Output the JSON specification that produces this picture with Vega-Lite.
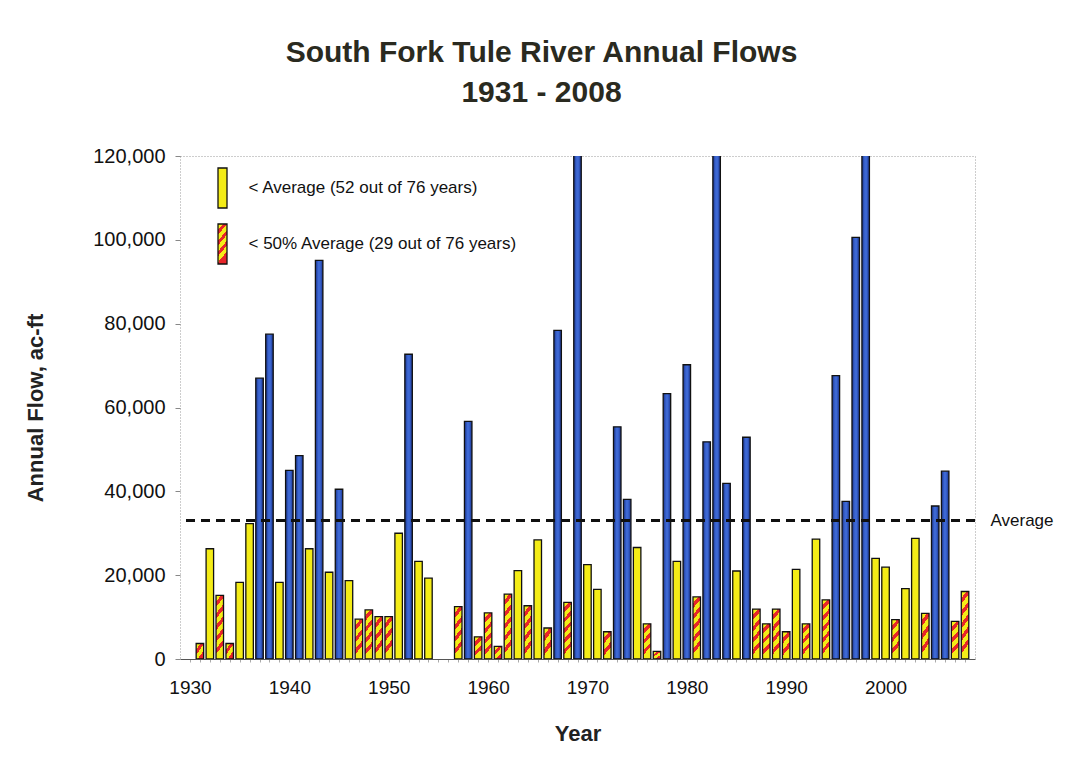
{
  "$schema": "https://vega.github.io/schema/vega-lite/v6.json",
  "width": 795,
  "height": 503,
  "autosize": "none",
  "padding": {"left": 180, "top": 156, "right": 107, "bottom": 122},
  "background": "white",
  "config": {
    "font": "Liberation Sans",
    "view": {"stroke": "#9a9a9a", "strokeDash": [1, 2], "strokeWidth": 1}
  },
  "title": {
    "text": ["South Fork Tule River Annual Flows", "1931 - 2008"],
    "fontSize": 30,
    "fontWeight": "bold",
    "color": "#2a2a20",
    "lineHeight": 40,
    "anchor": "middle",
    "dx": -36,
    "offset": 38
  },
  "data": {
    "values": [
      {"year": 1931, "flow": 3700, "cls": "half"},
      {"year": 1932, "flow": 26300, "cls": "below"},
      {"year": 1933, "flow": 15200, "cls": "half"},
      {"year": 1934, "flow": 3700, "cls": "half"},
      {"year": 1935, "flow": 18300, "cls": "below"},
      {"year": 1936, "flow": 32300, "cls": "below"},
      {"year": 1937, "flow": 67000, "cls": "above"},
      {"year": 1938, "flow": 77500, "cls": "above"},
      {"year": 1939, "flow": 18300, "cls": "below"},
      {"year": 1940, "flow": 45000, "cls": "above"},
      {"year": 1941, "flow": 48500, "cls": "above"},
      {"year": 1942, "flow": 26300, "cls": "below"},
      {"year": 1943, "flow": 95100, "cls": "above"},
      {"year": 1944, "flow": 20700, "cls": "below"},
      {"year": 1945, "flow": 40500, "cls": "above"},
      {"year": 1946, "flow": 18700, "cls": "below"},
      {"year": 1947, "flow": 9500, "cls": "half"},
      {"year": 1948, "flow": 11700, "cls": "half"},
      {"year": 1949, "flow": 10100, "cls": "half"},
      {"year": 1950, "flow": 10100, "cls": "half"},
      {"year": 1951, "flow": 30000, "cls": "below"},
      {"year": 1952, "flow": 72700, "cls": "above"},
      {"year": 1953, "flow": 23300, "cls": "below"},
      {"year": 1954, "flow": 19300, "cls": "below"},
      {"year": 1957, "flow": 12500, "cls": "half"},
      {"year": 1958, "flow": 56700, "cls": "above"},
      {"year": 1959, "flow": 5300, "cls": "half"},
      {"year": 1960, "flow": 11000, "cls": "half"},
      {"year": 1961, "flow": 3000, "cls": "half"},
      {"year": 1962, "flow": 15500, "cls": "half"},
      {"year": 1963, "flow": 21100, "cls": "below"},
      {"year": 1964, "flow": 12700, "cls": "half"},
      {"year": 1965, "flow": 28400, "cls": "below"},
      {"year": 1966, "flow": 7400, "cls": "half"},
      {"year": 1967, "flow": 78400, "cls": "above"},
      {"year": 1968, "flow": 13500, "cls": "half"},
      {"year": 1969, "flow": 170000, "cls": "above"},
      {"year": 1970, "flow": 22500, "cls": "below"},
      {"year": 1971, "flow": 16600, "cls": "below"},
      {"year": 1972, "flow": 6500, "cls": "half"},
      {"year": 1973, "flow": 55400, "cls": "above"},
      {"year": 1974, "flow": 38100, "cls": "above"},
      {"year": 1975, "flow": 26600, "cls": "below"},
      {"year": 1976, "flow": 8400, "cls": "half"},
      {"year": 1977, "flow": 1800, "cls": "half"},
      {"year": 1978, "flow": 63300, "cls": "above"},
      {"year": 1979, "flow": 23300, "cls": "below"},
      {"year": 1980, "flow": 70200, "cls": "above"},
      {"year": 1981, "flow": 14800, "cls": "half"},
      {"year": 1982, "flow": 51800, "cls": "above"},
      {"year": 1983, "flow": 190000, "cls": "above"},
      {"year": 1984, "flow": 41900, "cls": "above"},
      {"year": 1985, "flow": 21000, "cls": "below"},
      {"year": 1986, "flow": 52900, "cls": "above"},
      {"year": 1987, "flow": 11900, "cls": "half"},
      {"year": 1988, "flow": 8400, "cls": "half"},
      {"year": 1989, "flow": 11900, "cls": "half"},
      {"year": 1990, "flow": 6500, "cls": "half"},
      {"year": 1991, "flow": 21400, "cls": "below"},
      {"year": 1992, "flow": 8400, "cls": "half"},
      {"year": 1993, "flow": 28600, "cls": "below"},
      {"year": 1994, "flow": 14100, "cls": "half"},
      {"year": 1995, "flow": 67600, "cls": "above"},
      {"year": 1996, "flow": 37600, "cls": "above"},
      {"year": 1997, "flow": 100600, "cls": "above"},
      {"year": 1998, "flow": 140000, "cls": "above"},
      {"year": 1999, "flow": 24000, "cls": "below"},
      {"year": 2000, "flow": 21900, "cls": "below"},
      {"year": 2001, "flow": 9400, "cls": "half"},
      {"year": 2002, "flow": 16800, "cls": "below"},
      {"year": 2003, "flow": 28800, "cls": "below"},
      {"year": 2004, "flow": 10900, "cls": "half"},
      {"year": 2005, "flow": 36500, "cls": "above"},
      {"year": 2006, "flow": 44800, "cls": "above"},
      {"year": 2007, "flow": 9000, "cls": "half"},
      {"year": 2008, "flow": 16100, "cls": "half"}
    ]
  },
  "layer": [
    {
      "mark": {"type": "bar", "orient": "vertical", "width": 7.5, "stroke": "#111", "strokeWidth": 1.3, "clip": true},
      "encoding": {
        "x": {
          "field": "year",
          "type": "quantitative",
          "scale": {"domain": [1929.5, 2008.5], "nice": false, "zero": false},
          "axis": {
            "values": [1930,1931,1932,1933,1934,1935,1936,1937,1938,1939,1940,1941,1942,1943,1944,1945,1946,1947,1948,1949,1950,1951,1952,1953,1954,1955,1956,1957,1958,1959,1960,1961,1962,1963,1964,1965,1966,1967,1968,1969,1970,1971,1972,1973,1974,1975,1976,1977,1978,1979,1980,1981,1982,1983,1984,1985,1986,1987,1988,1989,1990,1991,1992,1993,1994,1995,1996,1997,1998,1999,2000,2001,2002,2003,2004,2005,2006,2007,2008],
            "labelExpr": "datum.value % 10 === 0 ? format(datum.value, 'd') : ''",
            "labelOverlap": false,
            "labelBound": false,
            "labelFlush": false,
            "tickSize": 3,
            "tickColor": "#aaa",
            "domainColor": "#555",
            "grid": false,
            "labelFontSize": 19,
            "labelPadding": 16,
            "labelColor": "#111",
            "title": "Year",
            "titleFontSize": 22,
            "titleFontWeight": "bold",
            "titleColor": "#222",
            "titlePadding": 26
          }
        },
        "y": {
          "field": "flow",
          "type": "quantitative",
          "scale": {"domain": [0, 120000], "nice": false},
          "axis": {
            "values": [0, 20000, 40000, 60000, 80000, 100000, 120000],
            "labelExpr": "format(datum.value, ',')",
            "tickSize": 5,
            "tickColor": "#888",
            "domain": false,
            "grid": false,
            "labelFontSize": 20,
            "labelPadding": 10,
            "labelColor": "#111",
            "title": "Annual Flow, ac-ft",
            "titleFontSize": 22,
            "titleFontWeight": "bold",
            "titleColor": "#222",
            "titlePadding": 45
          }
        },
        "fill": {
          "field": "cls",
          "type": "nominal",
          "scale": {
            "domain": ["above", "below", "half"],
            "range": [
              "#2c55c0",
              "#f4ec17",
              {"expr": "{gradient: 'linear', x1: 0, y1: 0, x2: 0.27, y2: 1, stops: [{offset: 0, color: '#f4ec17'}, {offset: 0.14, color: '#f4ec17'}, {offset: 0.14, color: '#e8262a'}, {offset: 0.25, color: '#e8262a'}, {offset: 0.25, color: '#f4ec17'}, {offset: 0.39, color: '#f4ec17'}, {offset: 0.39, color: '#e8262a'}, {offset: 0.5, color: '#e8262a'}, {offset: 0.5, color: '#f4ec17'}, {offset: 0.64, color: '#f4ec17'}, {offset: 0.64, color: '#e8262a'}, {offset: 0.75, color: '#e8262a'}, {offset: 0.75, color: '#f4ec17'}, {offset: 0.89, color: '#f4ec17'}, {offset: 0.89, color: '#e8262a'}, {offset: 1, color: '#e8262a'}]}"}
            ]
          },
          "condition": [
            {"test": "datum.cls === 'above'", "value": {"gradient": "linear", "x1": 0, "y1": 0, "x2": 1, "y2": 0, "stops": [{"offset": 0, "color": "#1a348f"}, {"offset": 0.4, "color": "#3d68d4"}, {"offset": 0.6, "color": "#3d68d4"}, {"offset": 1, "color": "#1a348f"}]}},
            {"test": "datum.cls === 'half' && datum.flow < 4500", "value": {"gradient": "linear", "x1": 0, "y1": 0, "x2": 0.69, "y2": 1, "stops": [{"offset": 0, "color": "#f4ec17"}, {"offset": 0.275, "color": "#f4ec17"}, {"offset": 0.275, "color": "#e8262a"}, {"offset": 0.5, "color": "#e8262a"}, {"offset": 0.5, "color": "#f4ec17"}, {"offset": 0.775, "color": "#f4ec17"}, {"offset": 0.775, "color": "#e8262a"}, {"offset": 1, "color": "#e8262a"}]}},
            {"test": "datum.cls === 'half' && datum.flow < 8000", "value": {"gradient": "linear", "x1": 0, "y1": 0, "x2": 0.33, "y2": 1, "stops": [{"offset": 0, "color": "#f4ec17"}, {"offset": 0.22, "color": "#f4ec17"}, {"offset": 0.22, "color": "#e8262a"}, {"offset": 0.4, "color": "#e8262a"}, {"offset": 0.4, "color": "#f4ec17"}, {"offset": 0.62, "color": "#f4ec17"}, {"offset": 0.62, "color": "#e8262a"}, {"offset": 0.8, "color": "#e8262a"}, {"offset": 0.8, "color": "#f4ec17"}, {"offset": 1, "color": "#f4ec17"}]}},
            {"test": "datum.cls === 'half' && datum.flow < 11000", "value": {"gradient": "linear", "x1": 0, "y1": 0, "x2": 0.225, "y2": 1, "stops": [{"offset": 0, "color": "#f4ec17"}, {"offset": 0.154, "color": "#f4ec17"}, {"offset": 0.154, "color": "#e8262a"}, {"offset": 0.28, "color": "#e8262a"}, {"offset": 0.28, "color": "#f4ec17"}, {"offset": 0.434, "color": "#f4ec17"}, {"offset": 0.434, "color": "#e8262a"}, {"offset": 0.56, "color": "#e8262a"}, {"offset": 0.56, "color": "#f4ec17"}, {"offset": 0.714, "color": "#f4ec17"}, {"offset": 0.714, "color": "#e8262a"}, {"offset": 0.84, "color": "#e8262a"}, {"offset": 0.84, "color": "#f4ec17"}, {"offset": 1, "color": "#f4ec17"}]}},
            {"test": "datum.cls === 'half' && datum.flow < 13000", "value": {"gradient": "linear", "x1": 0, "y1": 0, "x2": 0.18, "y2": 1, "stops": [{"offset": 0, "color": "#f4ec17"}, {"offset": 0.122, "color": "#f4ec17"}, {"offset": 0.122, "color": "#e8262a"}, {"offset": 0.222, "color": "#e8262a"}, {"offset": 0.222, "color": "#f4ec17"}, {"offset": 0.344, "color": "#f4ec17"}, {"offset": 0.344, "color": "#e8262a"}, {"offset": 0.444, "color": "#e8262a"}, {"offset": 0.444, "color": "#f4ec17"}, {"offset": 0.566, "color": "#f4ec17"}, {"offset": 0.566, "color": "#e8262a"}, {"offset": 0.667, "color": "#e8262a"}, {"offset": 0.667, "color": "#f4ec17"}, {"offset": 0.789, "color": "#f4ec17"}, {"offset": 0.789, "color": "#e8262a"}, {"offset": 0.889, "color": "#e8262a"}, {"offset": 0.889, "color": "#f4ec17"}, {"offset": 1, "color": "#f4ec17"}]}},
            {"test": "datum.cls === 'half'", "value": {"gradient": "linear", "x1": 0, "y1": 0, "x2": 0.145, "y2": 1, "stops": [{"offset": 0, "color": "#f4ec17"}, {"offset": 0.099, "color": "#f4ec17"}, {"offset": 0.099, "color": "#e8262a"}, {"offset": 0.18, "color": "#e8262a"}, {"offset": 0.18, "color": "#f4ec17"}, {"offset": 0.279, "color": "#f4ec17"}, {"offset": 0.279, "color": "#e8262a"}, {"offset": 0.36, "color": "#e8262a"}, {"offset": 0.36, "color": "#f4ec17"}, {"offset": 0.459, "color": "#f4ec17"}, {"offset": 0.459, "color": "#e8262a"}, {"offset": 0.54, "color": "#e8262a"}, {"offset": 0.54, "color": "#f4ec17"}, {"offset": 0.639, "color": "#f4ec17"}, {"offset": 0.639, "color": "#e8262a"}, {"offset": 0.72, "color": "#e8262a"}, {"offset": 0.72, "color": "#f4ec17"}, {"offset": 0.819, "color": "#f4ec17"}, {"offset": 0.819, "color": "#e8262a"}, {"offset": 0.9, "color": "#e8262a"}, {"offset": 0.9, "color": "#f4ec17"}, {"offset": 1, "color": "#f4ec17"}]}}
          ],
          "legend": {
            "values": ["below", "half"],
            "title": null,
            "orient": "none",
            "legendX": 21.5,
            "legendY": 11,
            "direction": "vertical",
            "padding": 0,
            "symbolType": "M-0.225,-1H0.225V1H-0.225Z",
            "symbolSize": 1600,
            "symbolStrokeColor": "#111",
            "symbolStrokeWidth": 1.3,
            "symbolOpacity": 1,
            "labelFontSize": 17,
            "labelColor": "#111",
            "labelOffset": 5,
            "labelLimit": 400,
            "rowPadding": 10,
            "labelExpr": "datum.value === 'below' ? '< Average (52 out of 76 years)' : '< 50% Average (29 out of 76 years)'"
          }
        }
      }
    },
    {
      "mark": {"type": "rule", "strokeDash": [9, 6], "strokeWidth": 1.6, "color": "#111"},
      "encoding": {
        "y": {
          "datum": 33000,
          "type": "quantitative",
          "axis": {
            "orient": "right",
            "values": [33000],
            "labelExpr": "'Average'",
            "domain": false,
            "ticks": false,
            "grid": false,
            "title": null,
            "labelFontSize": 17,
            "labelPadding": 15,
            "labelColor": "#111"
          }
        }
      }
    }
  ],
  "resolve": {"axis": {"y": "independent"}}
}
